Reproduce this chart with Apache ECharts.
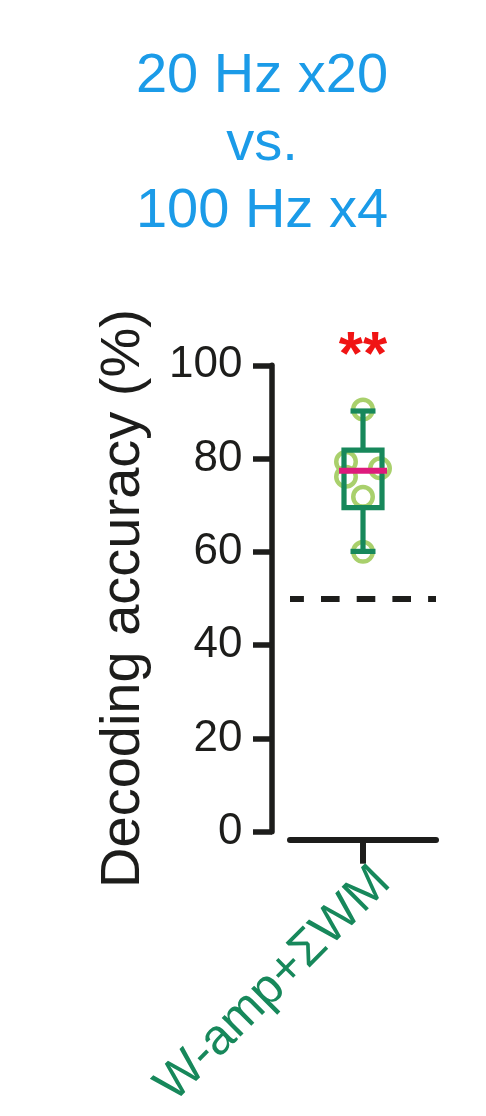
<!DOCTYPE html>
<html><head><meta charset="utf-8">
<script src="https://cdn.jsdelivr.net/npm/echarts@6/dist/echarts.min.js"></script>
<style>html,body{margin:0;padding:0;background:#fff}#c{width:486px;height:1116px}</style>
</head><body><div id="c"></div>
<script>
// ---- data ----
const titleLines = ['20 Hz x20', 'vs.', '100 Hz x4'];
const categories = ['W-amp+\u03A3WM'];
const yAxisName = 'Decoding accuracy (%)';
const yTicks = [0, 20, 40, 60, 80, 100];
// min, Q1, median, Q3, max
const boxStats = [[60.1, 69.5, 77.4, 81.8, 90.2]];
const points = [90.5, 79.3, 77.9, 76.1, 71.8, 60];
const pointJitter = [0, -17, 17, -17, 0, 0];
const chanceLevel = 50;
const significance = '**';

// ---- style ----
const FONT = "'Liberation Sans', Arial, Helvetica, sans-serif";
const DARK_GREEN = '#17885B';
const LIGHT_GREEN = '#A9D06C';
const MAGENTA = '#DE1A7C';
const BLUE = '#1B9BE8';
const RED = '#F01414';
const INK = '#1d1d1b';

const chart = echarts.init(document.getElementById('c'), null, {renderer: 'canvas'});

const customData = boxStats.map((s, i) => [i].concat(s));
const scatterData = points.map((v, i) => ({
  value: [0, v],
  symbolOffset: [pointJitter[i], 0]
}));

const option = {
  backgroundColor: '#ffffff',
  animation: false,
  title: [
    {
      text: titleLines.join('\n'),
      left: 262, top: 43, textAlign: 'center', padding: 0,
      textStyle: {fontFamily: FONT, fontSize: 56, fontWeight: 'normal', color: BLUE, lineHeight: 67.5}
    },
    {
      text: significance,
      left: 363, top: 326, textAlign: 'center', padding: 0,
      textStyle: {fontFamily: FONT, fontSize: 62, fontWeight: 'bold', color: RED, lineHeight: 62}
    }
  ],
  grid: {left: 290, right: 50, top: 365.3, bottom: 284.3, containLabel: false, outerBoundsMode: 'none'},
  xAxis: {
    type: 'category',
    data: categories,
    position: 'bottom',
    offset: 8,
    axisLine: {show: true, onZero: false, lineStyle: {color: INK, width: 6}},
    axisTick: {show: true, alignWithLabel: true, length: 24, lineStyle: {color: INK, width: 6}},
    axisLabel: {
      rotate: 45, margin: 55, padding: [0, -28, 0, 0],
      fontFamily: FONT, fontSize: 50, color: DARK_GREEN, interval: 0
    },
    splitLine: {show: false}
  },
  yAxis: {
    type: 'value',
    min: yTicks[0], max: yTicks[yTicks.length - 1], interval: yTicks[1] - yTicks[0],
    offset: 18,
    name: yAxisName,
    nameLocation: 'middle',
    nameGap: 120,
    nameMoveOverlap: false,
    nameTextStyle: {fontFamily: FONT, fontSize: 56, color: INK, lineHeight: 56},
    axisLine: {show: true, onZero: false, lineStyle: {color: INK, width: 5.5}},
    axisTick: {show: true, inside: false, length: 19, lineStyle: {color: INK, width: 5.5}},
    axisLabel: {fontFamily: FONT, fontSize: 44, color: INK, margin: 29.5},
    splitLine: {show: false}
  },
  series: [
    {
      type: 'scatter',
      data: scatterData,
      symbol: 'circle',
      symbolSize: 19.5,
      z: 2,
      itemStyle: {color: 'rgba(0,0,0,0)', borderColor: LIGHT_GREEN, borderWidth: 4.5, opacity: 1},
      markLine: {
        silent: true,
        symbol: ['none', 'none'],
        label: {show: false},
        lineStyle: {color: INK, width: 6, type: [18.6, 17.1], dashOffset: 4.7},
        data: [{yAxis: chanceLevel}]
      }
    },
    {
      type: 'custom',
      z: 3,
      data: customData,
      encode: {x: 0, y: [1, 2, 3, 4, 5]},
      renderItem: function (params, api) {
        const x = api.value(0);
        const pMin = api.coord([x, api.value(1)]);
        const pQ1 = api.coord([x, api.value(2)]);
        const pMed = api.coord([x, api.value(3)]);
        const pQ3 = api.coord([x, api.value(4)]);
        const pMax = api.coord([x, api.value(5)]);
        const cx = pMed[0];
        const boxHalf = 19, capHalf = 12.5, medHalf = 24;
        const lineStyle = {stroke: DARK_GREEN, lineWidth: 5.2, fill: null};
        return {
          type: 'group',
          children: [
            {type: 'line', shape: {x1: cx, y1: pMax[1], x2: cx, y2: pQ3[1]}, style: lineStyle},
            {type: 'line', shape: {x1: cx, y1: pQ1[1], x2: cx, y2: pMin[1]}, style: lineStyle},
            {type: 'line', shape: {x1: cx - capHalf, y1: pMax[1], x2: cx + capHalf, y2: pMax[1]}, style: lineStyle},
            {type: 'line', shape: {x1: cx - capHalf, y1: pMin[1], x2: cx + capHalf, y2: pMin[1]}, style: lineStyle},
            {type: 'rect', shape: {x: cx - boxHalf, y: pQ3[1], width: boxHalf * 2, height: pQ1[1] - pQ3[1]},
              style: {stroke: DARK_GREEN, lineWidth: 5.2, fill: 'none'}},
            {type: 'line', shape: {x1: cx - medHalf, y1: pMed[1], x2: cx + medHalf, y2: pMed[1]},
              style: {stroke: MAGENTA, lineWidth: 6}}
          ]
        };
      }
    }
  ]
};
chart.setOption(option);
</script>
</body></html>
